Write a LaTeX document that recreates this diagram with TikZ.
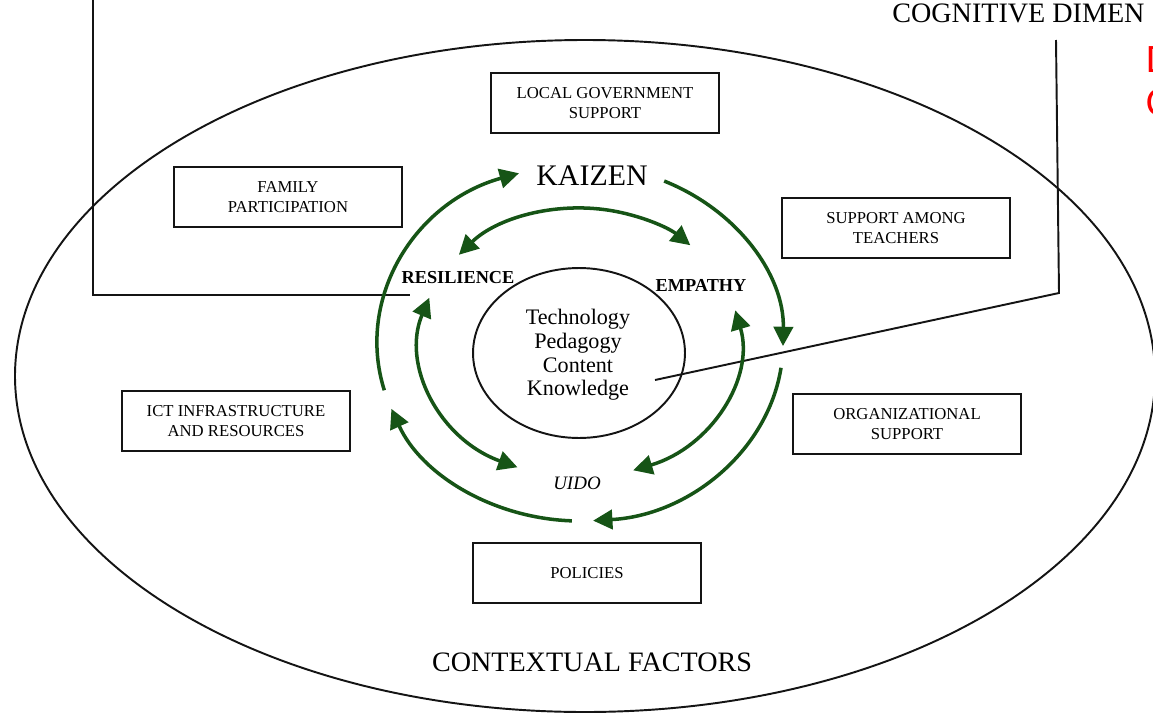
\documentclass[tikz,border=0pt]{standalone}
\usepackage{fontspec}
\setmainfont{Liberation Serif}
\newfontfamily\notefont{Carlito}
\usetikzlibrary{arrows.meta, positioning, shapes.geometric, calc}
\definecolor{kaizenGreen}{RGB}{22,84,22}
\definecolor{frameBlack}{RGB}{20,20,20}
\definecolor{noteRed}{RGB}{255,0,0}
\tikzset{
    factor/.style={rectangle, draw=frameBlack, line width=1.1pt, align=center,
                   minimum width=4.56cm, minimum height=1.2cm, font=\fontsize{9.5}{11.4}\selectfont},
    frame/.style={draw=frameBlack, line width=1.1pt},
    loopflow/.style={color=kaizenGreen, line width=2pt, -{Triangle[length=11pt, width=11pt]}},
    twoflow/.style={color=kaizenGreen, line width=2pt,
                    {Triangle[length=11pt, width=11pt]}-{Triangle[length=11pt, width=11pt]}},
    value/.style={inner sep=0pt, font=\bfseries\fontsize{10.4}{12}\selectfont},
    title/.style={inner sep=0pt, font=\fontsize{16}{19}\selectfont}
}

\begin{document}
\begin{tikzpicture}[x=0.02cm, y=-0.02cm]
    \clip (0,0) rectangle (1153,717);

    % contextual factors
    \draw[frame] (585,376) ellipse[x radius=570, y radius=336];

    \node[factor] (localgov) at (605,103) {LOCAL GOVERNMENT\\SUPPORT};
    \node[factor] (family) at (288,197) {FAMILY\\PARTICIPATION};
    \node[factor] (teachers) at (896,228) {SUPPORT AMONG\\TEACHERS};
    \node[factor] (ict) at (236,421) {ICT INFRASTRUCTURE\\AND RESOURCES};
    \node[factor] (org) at (907,424) {ORGANIZATIONAL\\SUPPORT};
    \node[factor] (policies) at (587,573) {POLICIES};

    \node[title] (contextual) at (592,662) {CONTEXTUAL FACTORS};
    \node[title, anchor=base west] (cognitive) at (892,22) {COGNITIVE DIMEN};
    \node[inner sep=0pt, anchor=base west, text=noteRed, font=\notefont\fontsize{23}{26}\selectfont] (noteD) at (1146,72) {D};
    \node[inner sep=0pt, anchor=base west, text=noteRed, font=\notefont\fontsize{23}{26}\selectfont] (noteC) at (1146,115) {C};

    % core
    \node[ellipse, frame, minimum width=4.24cm, minimum height=3.4cm] (core) at (579,353) {};
    \node[align=center, inner sep=0pt, font=\fontsize{12.6}{13.5}\selectfont] (tpck) at (578,355) {Technology\\Pedagogy\\Content\\Knowledge};

    \node[inner sep=0pt, font=\fontsize{17}{20}\selectfont] (kaizen) at (592,176) {KAIZEN};
    \node[value] (resilience) at (458,278) {RESILIENCE};
    \node[value] (empathy) at (701,285) {EMPATHY};
    \node[inner sep=0pt, font=\itshape\fontsize{10.8}{13}\selectfont] (uido) at (577,483) {UIDO};

    % brackets
    \coordinate (leftTop) at (93,-5);
    \coordinate (leftCorner) at (93,295);
    \coordinate (leftEnd) at (410,295);
    \coordinate (rightTop) at (1056,40);
    \coordinate (rightCorner) at (1059,293);
    \coordinate (tpckEnd) at (655,380);
    \draw[frame] (leftTop) -- (leftCorner) -- (leftEnd);
    \draw[frame] (rightTop) -- (rightCorner) -- (tpckEnd);

    % outer cycle
    \coordinate (hub) at (580,343);
    \draw[loopflow] ($(hub)+(164.6:203 and 178)$) arc[start angle=164.6, end angle=252.5, x radius=203, y radius=178];
    \draw[loopflow] ($(hub)+(294.5:203 and 178)$) arc[start angle=294.5, end angle=361, x radius=203, y radius=178];
    \draw[loopflow] ($(hub)+(8:203 and 178)$) arc[start angle=8, end angle=86.3, x radius=203, y radius=178];
    \draw[loopflow] ($(hub)+(92.3:203 and 178)$) arc[start angle=92.3, end angle=158.3, x radius=203, y radius=178];

    % inner links
    \draw[twoflow] ($(hub)+(220.8:160 and 135)$) arc[start angle=220.8, end angle=313.6, x radius=160, y radius=135];
    \draw[twoflow] ($(hub)+(199.6:160 and 135)$) arc[start angle=199.6, end angle=113, x radius=160, y radius=135];
    \draw[twoflow] ($(hub)+(346:160 and 135)$) arc[start angle=346, end angle=430.6, x radius=160, y radius=135];
\end{tikzpicture}
\end{document}
